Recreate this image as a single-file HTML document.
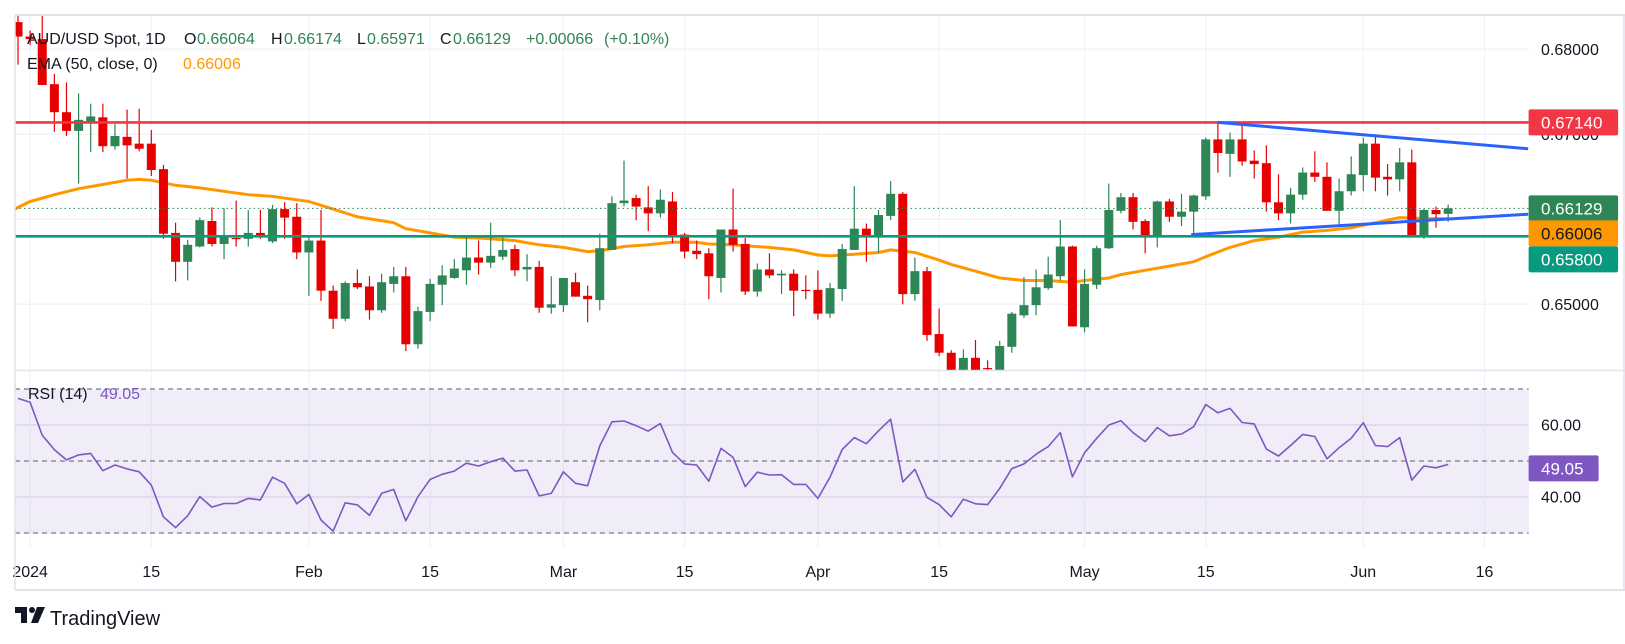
<!DOCTYPE html>
<html><head><meta charset="utf-8"><style>
html,body{margin:0;padding:0;background:#fff;}
svg{display:block;font-family:"Liberation Sans",sans-serif;}
</style></head><body>
<svg id="chart" width="1625" height="644" viewBox="0 0 1625 644" xmlns="http://www.w3.org/2000/svg">
<defs>
<clipPath id="mainClip"><rect x="15" y="16" width="1514" height="354"/></clipPath>
<clipPath id="rsiClip"><rect x="15" y="372" width="1514" height="218"/></clipPath>
</defs>
<rect x="0" y="0" width="1625" height="644" fill="#fff"/>
<g id="grid"></g>
<rect x="15" y="389.3" width="1514" height="144" fill="#7e57c2" fill-opacity="0.11"/>
<g id="main" clip-path="url(#mainClip)"></g>
<g id="rsi" clip-path="url(#rsiClip)"></g>
<g id="axes"></g>
<!-- borders -->
<line x1="15" y1="15" x2="1625" y2="15" stroke="#e0e3eb" stroke-width="2"/>
<line x1="15" y1="15" x2="15" y2="590" stroke="#e0e3eb" stroke-width="1.5"/>
<line x1="1624" y1="15" x2="1624" y2="590" stroke="#e0e3eb" stroke-width="1.5"/>
<line x1="15" y1="370.5" x2="1625" y2="370.5" stroke="#e0e3eb" stroke-width="1.5"/>
<line x1="15" y1="590" x2="1625" y2="590" stroke="#e0e3eb" stroke-width="2"/>
<!-- header legend -->
<text y="44" font-size="16" fill="#131722">
<tspan x="27">AUD/USD Spot, 1D</tspan><tspan x="184">O</tspan><tspan x="197" fill="#2e8555">0.66064</tspan><tspan x="271">H</tspan><tspan x="284" fill="#2e8555">0.66174</tspan><tspan x="357">L</tspan><tspan x="367" fill="#2e8555">0.65971</tspan><tspan x="440">C</tspan><tspan x="453" fill="#2e8555">0.66129</tspan><tspan x="526" fill="#2e8555">+0.00066</tspan><tspan x="604" fill="#2e8555">(+0.10%)</tspan>
</text>
<text y="69" font-size="16" fill="#131722"><tspan x="27">EMA (50, close, 0)</tspan><tspan x="183" fill="#ff9800">0.66006</tspan></text>
<text y="399" font-size="16" fill="#131722"><tspan x="28">RSI (14)</tspan><tspan x="100" fill="#7e57c2">49.05</tspan></text>
<!-- logo -->
<g>
<rect x="15" y="607" width="12" height="6" fill="#131722"/>
<rect x="21" y="607" width="6" height="16" fill="#131722"/>
<circle cx="32" cy="610" r="3" fill="#131722"/>
<polygon points="37,607 45,607 38,623 31,623" fill="#131722"/>
<text x="50" y="625" font-size="20" fill="#131722">TradingView</text>
</g>
</svg>
<script>
const opens=[.6832,.6815,.6812,.6759,.6726,.6704,.6714,.6720,.6686,.6697,.6689,.6689,.6659,.6584,.6550,.6568,.6598,.6571,.6578,.6577,.6584,.6574,.6612,.6603,.6561,.6575,.6516,.6483,.6525,.6521,.6493,.6524,.6533,.6453,.6491,.6523,.6531,.6540,.6555,.6549,.6556,.6565,.6541,.6544,.6496,.6499,.6526,.6510,.6505,.6564,.6619,.6625,.6614,.6607,.6621,.6582,.6563,.6560,.6531,.6588,.6571,.6515,.6541,.6534,.6536,.6517,.6517,.6489,.6518,.6564,.6589,.6579,.6604,.6630,.6512,.6539,.6465,.6443,.6422,.6437,.6425,.6422,.6450,.6487,.6499,.6519,.6533,.6568,.6473,.6523,.6566,.6610,.6626,.6598,.6580,.6621,.6603,.6609,.6627,.6694,.6677,.6694,.6669,.6666,.6620,.6607,.6629,.6655,.6650,.6610,.6633,.6652,.6689,.6650,.6647,.6667,.6581,.6611,.66064];
const highs=[.6840,.6822,.6845,.6771,.6761,.6748,.6736,.6736,.6712,.6729,.6730,.6705,.6664,.6596,.6576,.6602,.6614,.6613,.6622,.6611,.6611,.6617,.6620,.6619,.6579,.6611,.6522,.6527,.6541,.6533,.6536,.6544,.6544,.6497,.6530,.6546,.6553,.6580,.6575,.6596,.6579,.6570,.6559,.6551,.6533,.6531,.6537,.6522,.6583,.6627,.6669,.6629,.6639,.6635,.6632,.6584,.6575,.6566,.6588,.6636,.6578,.6548,.6560,.6540,.6541,.6534,.6540,.6525,.6571,.6639,.6595,.6611,.6645,.6632,.6555,.6544,.6495,.6446,.6447,.6458,.6434,.6457,.6491,.6532,.6541,.6556,.6599,.6569,.6541,.6569,.6642,.6631,.6631,.6600,.6622,.6624,.6630,.6629,.6696,.6715,.6702,.6710,.6681,.6687,.6653,.6637,.6661,.6680,.6667,.6648,.6674,.6696,.6700,.6665,.6684,.6682,.6612,.6615,.66174];
const lows=[.6782,.6805,.6758,.6703,.6698,.6642,.6679,.6679,.6682,.6648,.6680,.6651,.6577,.6527,.6528,.6567,.6568,.6553,.6568,.6568,.6577,.6572,.6577,.6553,.6510,.6504,.6471,.6480,.6518,.6482,.6490,.6514,.6445,.6448,.6480,.6499,.6530,.6523,.6535,.6543,.6552,.6533,.6527,.6490,.6489,.6491,.6509,.6479,.6493,.6565,.6615,.6599,.6586,.6602,.6572,.6554,.6553,.6506,.6514,.6562,.6511,.6509,.6531,.6512,.6486,.6506,.6482,.6484,.6504,.6564,.6550,.6561,.6599,.6500,.6504,.6457,.6439,.6418,.6418,.6418,.6418,.6418,.6443,.6484,.6487,.6517,.6528,.6474,.6467,.6518,.6565,.6607,.6588,.6560,.6567,.6597,.6592,.6582,.6623,.6655,.6650,.6663,.6648,.6609,.6599,.6595,.6623,.6644,.6610,.6594,.6628,.6633,.6633,.6628,.6633,.6580,.6577,.6590,.65971];
const closes=[.6815,.6812,.6758,.6726,.6704,.6717,.6721,.6686,.6698,.6687,.6683,.6658,.6583,.6550,.6570,.6599,.6571,.6581,.6577,.6584,.6581,.6612,.6602,.6561,.6575,.6516,.6483,.6525,.6520,.6493,.6526,.6533,.6453,.6492,.6524,.6534,.6542,.6555,.6549,.6557,.6564,.6540,.6544,.6496,.6500,.6531,.6509,.6506,.6566,.6619,.6622,.6615,.6607,.6623,.6581,.6562,.6559,.6533,.6588,.6570,.6515,.6541,.6534,.6536,.6516,.6516,.6489,.6519,.6565,.6589,.6579,.6605,.6630,.6512,.6539,.6464,.6443,.6421,.6437,.6422,.6424,.6451,.6489,.6499,.6520,.6535,.6568,.6474,.6524,.6566,.6611,.6626,.6597,.6580,.6621,.6603,.6609,.6628,.6694,.6678,.6694,.6668,.6665,.6620,.6607,.6629,.6655,.6650,.6610,.6633,.6653,.6689,.6649,.6647,.6667,.6581,.6611,.6606,.66129];
const emaIdx=[-0.3,1,3,5,7,9,10,11,12,13,15,17,19,21,23,24,26,28,31,32,34,36,38,41,43,45,47,48,50,52,54,56,57,59,60,62,64,66,67,69,71,72,74,76,77,79,81,83,85,87,88,90,91,93,95,97,98,100,102,104,106,108,110,112,114,116,118];
const emaVal=[.6612,.6621,.6629,.6636,.6641,.6646,.6647,.6646,.6643,.6640,.6637,.6633,.6629,.6627,.6623,.6621,.6612,.6603,.6596,.6589,.6584,.6579,.6578,.6575,.6570,.6567,.6562,.6563,.6568,.6570,.6573,.6573,.6571,.6570,.6569,.6567,.6564,.6558,.6557,.6559,.6561,.6564,.6561,.6552,.6547,.6539,.6531,.6528,.6528,.6526,.6528,.6531,.6535,.6540,.6545,.6550,.6556,.6567,.6575,.6579,.6585,.6587,.6590,.6596,.6602,.6601,.66006];
const rsiVals=[67.4,66.3,57.2,53.1,50.3,51.7,52.1,47.3,48.9,47.8,47.0,43.3,34.5,31.5,34.8,40.1,37.2,38.2,38.2,39.6,39.2,45.5,43.8,38.1,40.7,33.6,30.5,38.4,37.8,34.9,41.0,42.1,33.4,40.1,44.9,46.3,47.2,49.4,48.6,49.8,50.8,47.2,47.5,40.3,41.0,47.0,43.8,43.1,54.2,60.9,61.1,59.8,58.3,60.4,52.4,49.2,48.9,44.4,53.5,51.0,42.9,46.9,46.1,46.2,43.5,43.5,39.6,45.5,53.2,56.5,54.8,58.4,61.6,44.2,47.7,39.9,37.9,34.5,39.4,38.1,37.9,42.4,47.9,49.2,51.9,54.0,57.9,45.6,52.3,56.3,60.0,61.2,57.9,55.4,59.3,57.0,57.5,59.5,65.7,63.4,64.6,60.7,60.3,53.3,51.4,54.3,57.4,56.8,50.6,53.7,56.3,60.6,54.3,54.0,56.5,44.7,48.6,48.1,49.05];
const priceTicks=[0.68,0.67,0.66,0.65];
const priceTickLabels=["0.68000","0.67000","0.66000","0.65000"];
const rsiTicks=[60,40];
const rsiTickLabels=["60.00","40.00"];
const dateIdx=[1,11,24,34,45,55,66,76,88,98,111,121];
const dateLabels=["2024","15","Feb","15","Mar","15","Apr","15","May","15","Jun","16"];
const levelRes=0.6714, levelSup=0.6580, lastClose=0.66129, lastEma=0.66006, lastRsi=49.05;
const upperTrend=[[99,0.6714],[124.6,0.6683]];
const lowerTrend=[[96.8,0.6582],[124.6,0.6606]];

const NS="http://www.w3.org/2000/svg";
const X=i=>18+12.12*i;
const Y=p=>49.3+(0.68-p)*8500;
const YR=v=>461-(v-50)*3.6;
const PLOT_R=1528.6;
function mk(tag,attrs,parent){const e=document.createElementNS(NS,tag);for(const k in attrs)e.setAttribute(k,attrs[k]);parent.appendChild(e);return e;}
const grid=document.getElementById('grid'),main=document.getElementById('main'),rsi=document.getElementById('rsi'),axes=document.getElementById('axes');
const GREEN="#2e8555",RED="#e60000";

// grid
priceTicks.forEach((p,k)=>{const l=mk('line',{x1:15,x2:PLOT_R,y1:Y(p),y2:Y(p),stroke:'#f0f3fa','stroke-width':1.5},grid);


const t=mk('text',{x:1541,y:Y(p)+5.5,'font-size':16,fill:'#131722'},axes);t.textContent=priceTickLabels[k];

});
rsiTicks.forEach((v,k)=>{const l=mk('line',{x1:15,x2:PLOT_R,y1:YR(v),y2:YR(v),stroke:'#e6e0f2','stroke-width':1.2},grid);


const t=mk('text',{x:1541,y:YR(v)+5.5,'font-size':16,fill:'#131722'},axes);t.textContent=rsiTickLabels[k];

});
dateIdx.forEach((d,k)=>{const x=X(d);const l=mk('line',{x1:x,x2:x,y1:16,y2:548,stroke:'#f0f3fa','stroke-width':1.2},grid);


const t=mk('text',{x:x,y:577,'font-size':16,fill:'#131722','text-anchor':'middle'},axes);t.textContent=dateLabels[k];

});

// EMA (under candles)
const emaPts=emaIdx.map((d,k)=>X(d).toFixed(1)+','+Y(emaVal[k]).toFixed(1)).join(' ');
const ema=mk('polyline',{points:emaPts,fill:'none',stroke:'#ff9800','stroke-width':3,'stroke-linejoin':'round'},main);



// candles
for(let i=0;i<opens.length;i++){
 const up=closes[i]>=opens[i];const col=up?GREEN:RED;const x=X(i);
 const g=mk('g',{},main);
 
 
 mk('line',{x1:x,x2:x,y1:Y(highs[i]),y2:Y(lows[i]),stroke:col,'stroke-width':1.2},g);
 const top=Y(Math.max(opens[i],closes[i])),bot=Y(Math.min(opens[i],closes[i]));
 mk('rect',{x:x-4.5,y:top,width:9,height:Math.max(1.2,bot-top),fill:col},g);
}

// last close dotted line
const dl=mk('line',{x1:15,x2:PLOT_R,y1:Y(lastClose),y2:Y(lastClose),stroke:GREEN,'stroke-width':1,'stroke-dasharray':'1.5,3'},main);



// horizontal levels
const rl=mk('line',{x1:15,x2:PLOT_R,y1:Y(levelRes),y2:Y(levelRes),stroke:'#f23645','stroke-width':2.6},main);


const sl=mk('line',{x1:15,x2:PLOT_R,y1:Y(levelSup),y2:Y(levelSup),stroke:'#089981','stroke-width':2.6},main);



// trend lines
const ut=mk('line',{x1:X(upperTrend[0][0]),y1:Y(upperTrend[0][1]),x2:X(upperTrend[1][0]),y2:Y(upperTrend[1][1]),stroke:'#2962ff','stroke-width':3},main);


const lt=mk('line',{x1:X(lowerTrend[0][0]),y1:Y(lowerTrend[0][1]),x2:X(lowerTrend[1][0]),y2:Y(lowerTrend[1][1]),stroke:'#2962ff','stroke-width':3},main);



// RSI
[70,50,30].forEach(v=>{const l=mk('line',{x1:15,x2:PLOT_R,y1:YR(v),y2:YR(v),stroke:'#787b86','stroke-width':1.2,'stroke-dasharray':'5,4'},rsi);

});
const rp=rsiVals.map((v,i)=>X(i).toFixed(1)+','+YR(v).toFixed(1)).join(' ');
const rl2=mk('polyline',{points:rp,fill:'none',stroke:'#7e57c2','stroke-width':1.6,'stroke-linejoin':'round'},rsi);



// price badges
function badge(name,y,text,bg,fg,w){
 const g=mk('g',{},axes);
 
 
 mk('rect',{x:1528.6,y:y-13,width:w,height:26,rx:2,fill:bg},g);
 const t=mk('text',{x:1541,y:y+6,'font-size':17,fill:fg},g);t.textContent=text;
}
badge('resistance-price-label',Y(levelRes),levelRes.toFixed(5),'#f23645','#fff',89.5);
badge('last-price-label',Y(lastClose),lastClose.toFixed(5),GREEN,'#fff',89.5);
badge('ema-price-label',Y(lastClose)+25,lastEma.toFixed(5),'#ff9800','#131722',89.5);
badge('support-price-label',Y(lastClose)+51,levelSup.toFixed(5),'#089981','#fff',89.5);
badge('rsi-value-label',YR(lastRsi)+4,lastRsi.toFixed(2),'#7e57c2','#fff',70);
</script>
</body></html>
